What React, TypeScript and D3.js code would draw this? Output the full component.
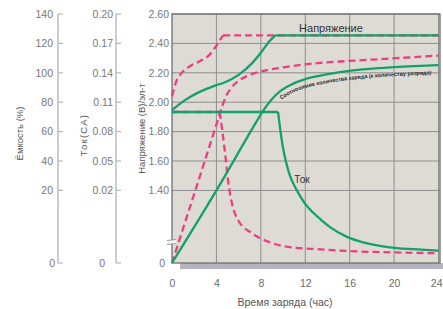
import * as d3 from 'd3';
import { useEffect, useRef } from 'react';

const hourTicks = [0, 4, 8, 12, 16, 20, 24];
const capacityTicks = [0, 20, 40, 60, 80, 100, 120, 140];
const currentTicks = [0, 0.02, 0.05, 0.08, 0.11, 0.14, 0.17, 0.2];
const voltageTicks = [0, 1.4, 1.6, 1.8, 2.0, 2.2, 2.4, 2.6];

// green, solid
const greenVoltageHours = [0, 1.17, 2.35, 3.88, 4.78, 5.96, 7.22, 8.12, 8.71, 9.3, 24];
const greenVoltage = [1.946, 2.014, 2.065, 2.113, 2.136, 2.184, 2.266, 2.348, 2.409, 2.455, 2.455];
const greenChargeHours = [0, 4, 7.58, 8.12, 8.84, 9.75, 10.83, 12, 13.36, 15.8, 18.8, 21.8, 24];
const greenCharge = [0, 20, 66.4, 73.2, 80.7, 87.5, 92.3, 95.7, 98.1, 101.1, 103.2, 104.5, 105.2];
const greenCurrentHours = [0, 9.55, 9.73, 10.0, 10.27, 10.63, 11.08, 11.53, 12.07, 12.7, 13.42, 14.23, 15.76, 17.2, 18.73, 20.26, 21.7, 24];
const greenCurrent = [0.1, 0.1, 0.0837, 0.0633, 0.049, 0.0347, 0.0235, 0.0185, 0.016, 0.0139, 0.0119, 0.0099, 0.0072, 0.0057, 0.0047, 0.0041, 0.0038, 0.0034];

// pink, dashed
const pinkVoltageHours = [0, 0.36, 0.81, 1.62, 2.53, 3.34, 3.97, 4.6, 24];
const pinkVoltage = [2.041, 2.136, 2.194, 2.245, 2.28, 2.32, 2.382, 2.455, 2.455];
const pinkChargeHours = [0, 2.1, 4.24, 4.51, 4.87, 5.32, 5.96, 6.86, 8.12, 10.2, 12.7, 15.8, 18.8, 21.8, 24];
const pinkCharge = [0, 20, 70.5, 76.9, 84.1, 89.6, 94.3, 98.1, 101.1, 103.9, 106.3, 108, 109.3, 110.7, 111.7];
const pinkCurrentHours = [0, 4.3, 4.78, 5.05, 5.4, 5.96, 7.2, 9, 11.1, 12.7, 15.8, 18.8, 24];
const pinkCurrent = [0.1, 0.1, 0.058, 0.03, 0.0164, 0.0118, 0.0082, 0.0055, 0.0042, 0.0039, 0.0033, 0.003, 0.0027];

const ratioLabel = 'Соотношение количества заряда (к количеству разряда)';

const W = 443;
const H = 309;
const FONT = '"Liberation Sans", Arial, sans-serif';
const GREEN = '#14a06b';
const PINK = '#ea3f83';

const App = () => {
  const ref = useRef<SVGSVGElement>(null);

  useEffect(() => {
    const svg = d3.select(ref.current).attr('width', W).attr('height', H);
    svg.selectAll('*').remove();

    const top = 14;
    const bottom = 263;
    const brk = 190.4;
    const x = d3.scaleLinear([0, 24], [172, 438.5]);
    // broken axes: lowest step squeezed
    const yV = d3.scaleLinear([0, 1.4, 2.6], [bottom, brk, top]);
    const yC = d3.scaleLinear([0, 20, 140], [bottom, brk, top]);
    const yI = d3.scaleLinear([0, 0.02, 0.2], [bottom, brk, top]);

    // shadow + plot background
    svg.append('rect').attr('x', 180).attr('y', bottom).attr('width', 263).attr('height', 6).attr('fill', '#b3b4bd');
    svg.append('rect').attr('x', 172).attr('y', top).attr('width', 268).attr('height', bottom - top).attr('fill', '#dedbd4');

    const grid = svg.append('g').attr('stroke', '#8e8e8e').attr('stroke-width', 1);
    hourTicks.slice(1).forEach((h) => {
      grid.append('line').attr('x1', x(h)).attr('x2', x(h)).attr('y1', top).attr('y2', bottom);
    });
    voltageTicks.slice(1).forEach((v) => {
      grid.append('line').attr('x1', 172).attr('x2', 440).attr('y1', yV(v)).attr('y2', yV(v));
    });
    svg.append('rect').attr('x', 172).attr('y', top).attr('width', 268).attr('height', bottom - top)
      .attr('fill', 'none').attr('stroke', '#6f6f6f').attr('stroke-width', 1.3);

    // break mark on left border
    svg.append('rect').attr('x', 168).attr('y', 240).attr('width', 8).attr('height', 4).attr('fill', '#f3f3f3');
    const bm = svg.append('g').attr('stroke', '#9a9a9a').attr('stroke-width', 1.1);
    bm.append('line').attr('x1', 167).attr('x2', 176).attr('y1', 240.5).attr('y2', 239.5);
    bm.append('line').attr('x1', 167).attr('x2', 176).attr('y1', 244.5).attr('y2', 243.5);

    // smooth curve, but kept sharp at the given corner hours
    const draw = (hours: number[], vals: number[], y: any, color: string, dashed: boolean, corners: number[]) => {
      const line = d3.line<number>().x((i) => x(hours[i])).y((i) => y(vals[i])).curve(d3.curveMonotoneX);
      const cuts = [0, ...corners.map((c) => hours.indexOf(c)), hours.length - 1];
      const d = cuts.slice(1).map((end, k) => line(d3.range(cuts[k], end + 1))).join('');
      svg.append('path').attr('d', d).attr('fill', 'none').attr('stroke', color)
        .attr('stroke-width', 2.3).attr('stroke-dasharray', dashed ? '7,4' : null);
    };

    draw(pinkVoltageHours, pinkVoltage, yV, PINK, true, [4.6]);
    draw(pinkChargeHours, pinkCharge, yC, PINK, true, []);
    draw(pinkCurrentHours, pinkCurrent, yI, PINK, true, [4.3]);
    draw(greenCurrentHours, greenCurrent, yI, GREEN, false, [9.55]);
    draw(greenChargeHours, greenCharge, yC, GREEN, false, []);
    draw(greenVoltageHours, greenVoltage, yV, GREEN, false, [9.3]);

    // curved label under the green charge curve
    const from = greenChargeHours.findIndex((h) => h >= 9.7);
    const labelLine = d3.line<number>()
      .x((_, i) => x(greenChargeHours[from + i]))
      .y((d) => yC(d) + 9)
      .curve(d3.curveMonotoneX);
    svg.append('path').attr('id', 'ratioPath').attr('d', labelLine(greenCharge.slice(from))).attr('fill', 'none');
    svg.append('text').attr('font-family', FONT).attr('font-size', 5.6).attr('font-weight', 'bold').attr('fill', '#2a2a2a')
      .append('textPath').attr('href', '#ratioPath').attr('startOffset', 1)
      .attr('textLength', 154).attr('lengthAdjust', 'spacingAndGlyphs').text(ratioLabel);

    const label = (t: string, tx: number, ty: number, size: number, fill = '#333') =>
      svg.append('text').attr('x', tx).attr('y', ty).attr('font-family', FONT).attr('font-size', size).attr('fill', fill).text(t);
    label('Напряжение', 331, 32, 11).attr('text-anchor', 'middle');
    label('Ток', 302, 183, 10).attr('text-anchor', 'middle');

    // left axes
    const tickFill = '#777';
    const leftAxis = (ticks: number[], y: any, lineX: number, labelX: number, zeroX: number, fmt: (d: number) => string) => {
      const g = svg.append('g');
      g.append('line').attr('x1', lineX).attr('x2', lineX).attr('y1', y(ticks[ticks.length - 1])).attr('y2', y(0))
        .attr('stroke', '#b8b8b8').attr('stroke-width', 1.4);
      ticks.forEach((d) => {
        g.append('line').attr('x1', lineX).attr('x2', lineX + 5).attr('y1', y(d)).attr('y2', y(d))
          .attr('stroke', '#b8b8b8').attr('stroke-width', 1.2);
      });
      ticks.forEach((d) => {
        g.append('text').attr('x', d === 0 ? zeroX : labelX).attr('y', y(d)).attr('dy', '0.36em')
          .attr('text-anchor', 'end').attr('font-family', FONT).attr('font-size', 10.5).attr('fill', tickFill)
          .text(fmt(d));
      });
    };
    leftAxis(capacityTicks, yC, 58, 53, 55, (d) => String(d));
    leftAxis(currentTicks, yI, 116, 113, 105, (d) => (d === 0 ? '0' : d.toFixed(2)));

    voltageTicks.forEach((d) => {
      svg.append('text').attr('x', d === 0 ? 165 : 169).attr('y', yV(d)).attr('dy', '0.36em')
        .attr('text-anchor', 'end').attr('font-family', FONT).attr('font-size', 10.5).attr('fill', tickFill)
        .text(d === 0 ? '0' : d.toFixed(2));
    });

    const vTitle = (t: string, cx: number, cy: number, spacing = 0) =>
      svg.append('text').attr('transform', `translate(${cx},${cy}) rotate(-90)`).attr('dy', '0.35em')
        .attr('text-anchor', 'middle').attr('font-family', FONT).attr('font-size', 9.5)
        .attr('letter-spacing', spacing).attr('fill', '#555').text(t);
    vTitle('Ёмкость (%)', 20, 133.5);
    vTitle('Ток(CA)', 84, 135, 1.2);
    vTitle('Напряжение (В)/эл-т', 142, 128.5);

    // x axis labels (last one kept inside the frame)
    hourTicks.forEach((h, i) => {
      const last = i === hourTicks.length - 1;
      svg.append('text').attr('x', last ? 442.5 : x(h) + 0.5).attr('y', 283).attr('dy', '0.36em')
        .attr('text-anchor', last ? 'end' : 'middle')
        .attr('font-family', FONT).attr('font-size', 10.5).attr('fill', '#6a6a6a').text(String(h));
    });
    label('Время заряда (час)', 285, 306, 10.5, '#555').attr('text-anchor', 'middle');
  }, []);

  return (
    <div style={{ position: 'absolute', left: 0, top: 0, background: '#fff' }}>
      <svg ref={ref} style={{ display: 'block' }} />
    </div>
  );
};

export default App;
